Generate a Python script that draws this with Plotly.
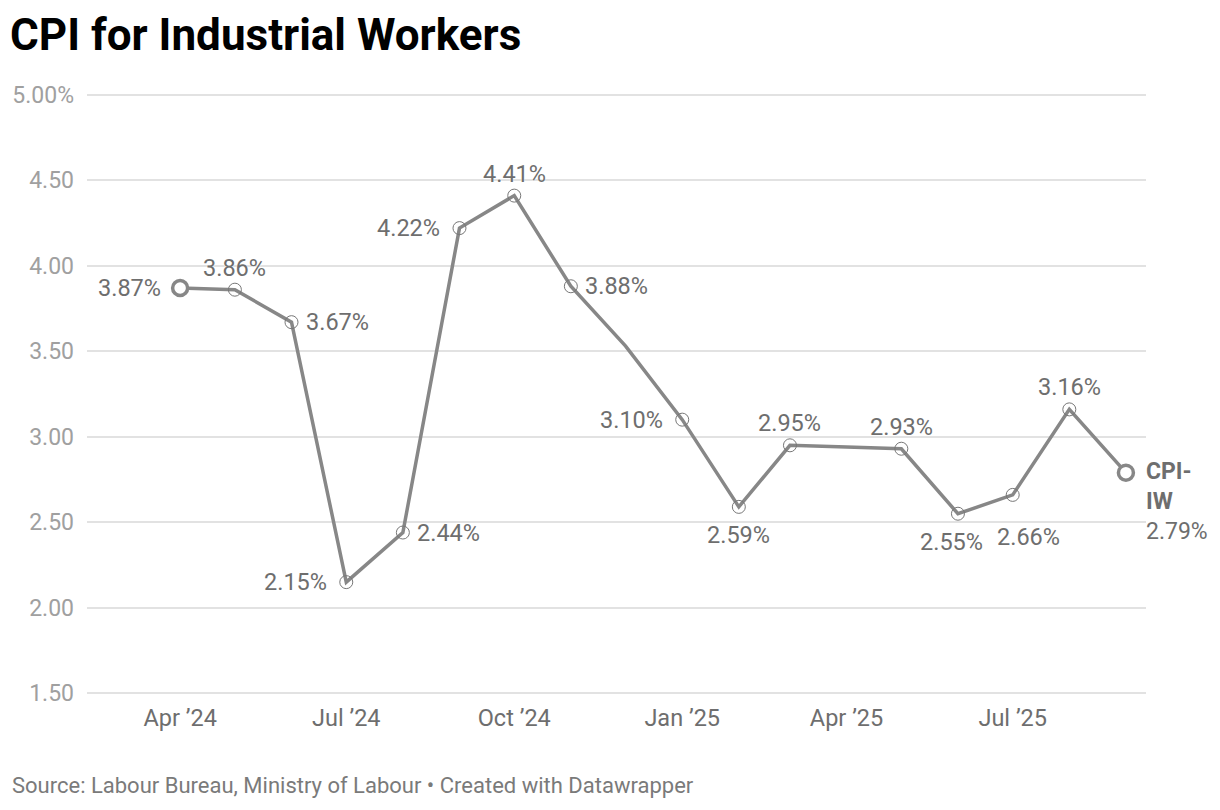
import plotly.graph_objects as go

# CPI-IW inflation, monthly (Apr 2024 - Sep 2025)
months = ["2024-04-01", "2024-05-01", "2024-06-01", "2024-07-01", "2024-08-01",
          "2024-09-01", "2024-10-01", "2024-11-01", "2024-12-01", "2025-01-01",
          "2025-02-01", "2025-03-01", "2025-04-01", "2025-05-01", "2025-06-01",
          "2025-07-01", "2025-08-01", "2025-09-01"]
cpi = [3.87, 3.86, 3.67, 2.15, 2.44, 4.22, 4.41, 3.88, 3.53, 3.10,
       2.59, 2.95, 2.94, 2.93, 2.55, 2.66, 3.16, 2.79]
# where each value label goes (None = no label / no marker)
label_pos = ["left", "top", "right", "left", "right", "left", "top", "right", None, "left",
             "bottom", "top", None, "top", "bottom", "bottom", "top", "end"]

y_ticks = [1.5, 2.0, 2.5, 3.0, 3.5, 4.0, 4.5, 5.0]
y_tick_text = ["1.50", "2.00", "2.50", "3.00", "3.50", "4.00", "4.50", "5.00%"]

series_name = "CPI-IW"
title = "CPI for Industrial Workers"
source = "Source: Labour Bureau, Ministry of Labour • Created with Datawrapper"

LINE = "#878787"
LABEL = "#6e6e6e"
FONT = "Roboto"

# page has an 8px body margin, so the figure is sized/offset to compensate
W, H = 1212, 802
L, T, R, B = 79, 85, 74, 115

fig = go.Figure()

fig.add_trace(go.Scatter(
    x=months, y=cpi, mode="lines",
    line=dict(color=LINE, width=3.5),
    hoverinfo="skip", showlegend=False,
))

# small open markers on the labelled inner points
inner = [i for i, p in enumerate(label_pos) if p not in (None, "end") and i != 0]
fig.add_trace(go.Scatter(
    x=[months[i] for i in inner], y=[cpi[i] for i in inner], mode="markers",
    marker=dict(symbol="circle-open", size=13, color="#777777", line=dict(width=1)),
    hoverinfo="skip", showlegend=False,
))

# first and last points get the bold ring
ends = [0, len(cpi) - 1]
fig.add_trace(go.Scatter(
    x=[months[i] for i in ends], y=[cpi[i] for i in ends], mode="markers",
    marker=dict(symbol="circle", size=15, color="white", line=dict(color=LINE, width=3.5)),
    hoverinfo="skip", showlegend=False,
))

# value labels
offsets = {
    "left": dict(xanchor="right", yanchor="middle", xshift=-17, yshift=0),
    "right": dict(xanchor="left", yanchor="middle", xshift=12, yshift=0),
    "top": dict(xanchor="center", yanchor="bottom", xshift=0, yshift=6),
    "bottom": dict(xanchor="center", yanchor="top", xshift=0, yshift=-12),
}
special = {14: dict(xanchor="center", yanchor="top", xshift=-6, yshift=-12),
           15: dict(xanchor="center", yanchor="top", xshift=16, yshift=-26)}

for i, pos in enumerate(label_pos):
    if pos is None:
        continue
    if pos == "end":
        fig.add_annotation(
            x=months[i], y=cpi[i], showarrow=False,
            text=f"<b>{series_name[:4]}</b><br><b>{series_name[4:]}</b><br>{cpi[i]:.2f}%",
            xanchor="left", yanchor="top", xshift=18, yshift=17, align="left",
            font=dict(family=FONT, size=23, color=LABEL),
        )
        continue
    o = special.get(i, offsets[pos])
    fig.add_annotation(
        x=months[i], y=cpi[i], showarrow=False, text=f"{cpi[i]:.2f}%",
        font=dict(family=FONT, size=23.5, color=LABEL, shadow="0px 0px 2px white"),
        **o,
    )

fig.add_annotation(
    x=-0.0727, y=-0.151, xref="paper", yref="paper", showarrow=False,
    text=source, xanchor="left", yanchor="middle",
    font=dict(family=FONT, size=22, color="#7a7a7a"),
)

fig.update_layout(
    width=W, height=H,
    margin=dict(l=L, r=R, t=T, b=B, autoexpand=False),
    plot_bgcolor="white", paper_bgcolor="white",
    font=dict(family=FONT),
    title=dict(
        text=f"<b>{title}</b>", xref="container", yref="container",
        x=2 / W, xanchor="left", y=1 - 27 / H, yanchor="middle",
        font=dict(family=FONT, size=44, color="#000000"),
    ),
    xaxis=dict(
        type="date", range=["2024-02-10", "2025-09-12"],
        tick0="2024-04-01", dtick="M3", tickformat="%b ’%y",
        showgrid=False, zeroline=False, showline=False, ticks="",
        tickfont=dict(family=FONT, size=23.5, color="#6e6e6e"),
        ticklabelstandoff=6, automargin=False,
    ),
    yaxis=dict(
        range=[1.49, 5.01], tickvals=y_ticks, ticktext=y_tick_text,
        showgrid=True, gridcolor="#e2e2e2", gridwidth=2, zeroline=False,
        showline=False, ticks="",
        tickfont=dict(family=FONT, size=23, color="#a0a0a0"),
        ticklabelstandoff=12, automargin=False,
    ),
)

fig.write_html("out.html")
